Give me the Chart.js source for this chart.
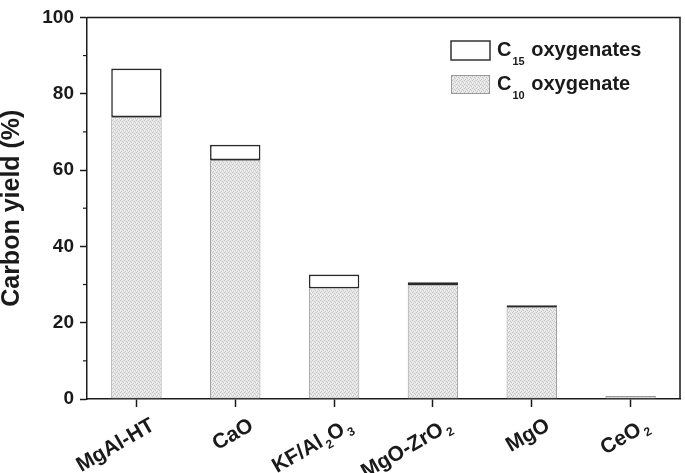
<!DOCTYPE html>
<html><head><meta charset="utf-8">
<script src="https://cdn.jsdelivr.net/npm/chart.js@4.4.0/dist/chart.umd.min.js"></script>
<style>html,body{margin:0;padding:0;background:#fff}</style>
</head><body>
<canvas id="c" width="685" height="473"></canvas>
<script>
// ---- data ----
const categories = ['MgAl-HT', 'CaO', 'KF/Al2O3', 'MgO-ZrO2', 'MgO', 'CeO2'];
const c10Values = [73.9, 62.6, 29.0, 29.8, 24.1, 0.8];
const c15Values = [12.7, 4.0, 3.6, 0.8, 0.5, 0];
const seriesNames = ['C15 oxygenates', 'C10 oxygenate'];
const yTickValues = [0, 20, 40, 60, 80, 100];
const yMinorTicks = [10, 30, 50, 70, 90];
const yTitle = 'Carbon yield (%)';

// ---- styling ----
const FONT = '"Liberation Sans", Arial, sans-serif';
const INK = '#1a1a1a';

function makePattern() {
  const pc = document.createElement('canvas');
  pc.width = 4; pc.height = 4;
  const p = pc.getContext('2d');
  p.fillStyle = '#e6e6e6'; p.fillRect(0, 0, 4, 4);
  p.fillStyle = '#c6c6c6';
  [[0,0],[2,1],[1,3],[3,2]].forEach(([x,y]) => p.fillRect(x, y, 1, 1));
  p.fillStyle = '#f2f2f2';
  [[2,3],[0,2]].forEach(([x,y]) => p.fillRect(x, y, 1, 1));
  return document.getElementById('c').getContext('2d').createPattern(pc, 'repeat');
}
const dotFill = makePattern();

function richParts(t) { return t.split(/(\d+)/); }
function richWidth(ctx, parts, fm, fs, gapBefore, gapAfter) {
  let w = 0;
  parts.forEach((p, i) => {
    if (!p) return;
    ctx.font = (i % 2) ? fs : fm;
    w += ctx.measureText(p).width + ((i % 2) ? gapBefore + gapAfter : 0);
  });
  return w;
}
function drawRich(ctx, parts, x, y, fm, fs, dy, gapBefore, gapAfter) {
  parts.forEach((p, i) => {
    if (!p) return;
    const sub = i % 2 === 1;
    ctx.font = sub ? fs : fm;
    if (sub) x += gapBefore;
    ctx.fillText(p, x, sub ? y + dy : y);
    x += ctx.measureText(p).width + (sub ? gapAfter : 0);
  });
}

const decor = {
  id: 'decor',
  afterDraw(chart) {
    const ctx = chart.ctx;
    const a = chart.chartArea;
    const ys = chart.scales.y, xs = chart.scales.x;
    ctx.save();
    // frame top & right
    ctx.strokeStyle = INK; ctx.lineWidth = 1.5;
    ctx.beginPath();
    ctx.moveTo(a.left, a.top); ctx.lineTo(a.right, a.top); ctx.lineTo(a.right, a.bottom);
    ctx.stroke();
    // minor y ticks
    ctx.lineWidth = 1.2;
    yMinorTicks.forEach(v => {
      const py = ys.getPixelForValue(v);
      ctx.beginPath(); ctx.moveTo(a.left - 4, py); ctx.lineTo(a.left, py); ctx.stroke();
    });
    // x labels
    ctx.fillStyle = INK; ctx.textBaseline = 'alphabetic'; ctx.textAlign = 'left';
    const fm = 'bold 21px ' + FONT, fs = 'bold 12px ' + FONT;
    categories.forEach((lab, i) => {
      const px = xs.getPixelForTick(i);
      const parts = richParts(lab);
      const w = richWidth(ctx, parts, fm, fs, 2, 0);
      ctx.save();
      ctx.translate(px + 12, xs.top + 17);
      ctx.rotate(-Math.PI / 6);
      drawRich(ctx, parts, -w, 15, fm, fs, 5, 2, 0);
      ctx.restore();
    });
    // legend
    const lfm = 'bold 20px ' + FONT, lfs = 'bold 11px ' + FONT;
    ctx.fillStyle = '#fff'; ctx.fillRect(451, 41, 39, 19);
    ctx.strokeStyle = '#333'; ctx.lineWidth = 1.5; ctx.strokeRect(451, 41, 39, 19);
    ctx.fillStyle = dotFill; ctx.fillRect(451, 75, 39, 19);
    ctx.strokeStyle = '#999'; ctx.lineWidth = 1; ctx.strokeRect(451.5, 75.5, 38, 18);
    ctx.fillStyle = INK;
    drawRich(ctx, richParts(seriesNames[0]), 497, 56, lfm, lfs, 9, 1, 1);
    drawRich(ctx, richParts(seriesNames[1]), 497, 90, lfm, lfs, 9, 1, 1);
    ctx.restore();
  }
};

new Chart(document.getElementById('c'), {
  type: 'bar',
  data: {
    labels: categories,
    datasets: [
      { label: seriesNames[1], data: c10Values, backgroundColor: dotFill, borderColor: '#999999', borderWidth: 1, borderSkipped: false },
      { label: seriesNames[0], data: c15Values, backgroundColor: '#ffffff', borderColor: '#2a2a2a', borderWidth: 1.6, borderSkipped: false }
    ]
  },
  options: {
    responsive: false,
    devicePixelRatio: 1,
    animation: false,
    layout: { padding: { top: 10, right: 5, left: 0, bottom: 0 } },
    datasets: { bar: { categoryPercentage: 1, barPercentage: 0.51 } },
    plugins: { legend: { display: false }, tooltip: { enabled: false } },
    scales: {
      x: {
        stacked: true,
        grid: { drawOnChartArea: false, offset: false, tickLength: 8, tickColor: INK, tickWidth: 1.5 },
        border: { color: INK, width: 1.5 },
        ticks: { callback: () => '', maxRotation: 0 },
        afterFit: s => { s.height = 74; }
      },
      y: {
        stacked: true, min: 0, max: 100,
        afterBuildTicks: s => { s.ticks = yTickValues.map(v => ({ value: v })); },
        ticks: { color: INK, padding: 6, font: { family: FONT, size: 19, weight: 'bold' } },
        grid: { drawOnChartArea: false, tickLength: 7, tickColor: INK, tickWidth: 1.5 },
        border: { color: INK, width: 1.5 },
        title: { display: true, text: yTitle, color: INK, font: { family: FONT, size: 25, weight: 'bold', lineHeight: 1 }, padding: { top: 0, bottom: 0 } },
        afterFit: s => { s.width = 87; }
      }
    }
  },
  plugins: [decor]
});
</script>
</body></html>
